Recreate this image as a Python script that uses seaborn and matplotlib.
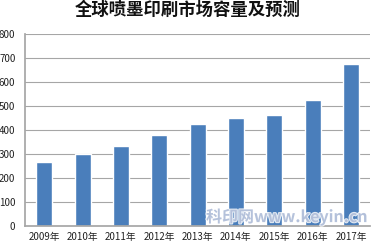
import matplotlib
matplotlib.use("Agg")
import matplotlib.pyplot as plt
import seaborn as sns
import pandas as pd
import matplotlib.patheffects as pe

years = ["2009年", "2010年", "2011年", "2012年", "2013年", "2014年", "2015年", "2016年", "2017年"]
values = [267, 300, 333, 379, 425, 450, 462, 525, 675]
yticks = [0, 100, 200, 300, 400, 500, 600, 700, 800]
title = "全球喷墨印刷市场容量及预测"
watermark = "科印网www.keyin.cn"

sns.set_theme(style="white")
plt.rcParams['font.family'] = ['Noto Sans CJK SC', 'DejaVu Sans']

df = pd.DataFrame({"year": years, "value": values})

fig = plt.figure(figsize=(3.75, 2.46), dpi=100)
ax = fig.add_axes([0.067, 0.081, 0.92, 0.781])
sns.barplot(data=df, x="year", y="value", color="#4a7ebb", width=0.42, ax=ax, saturation=1)
ax.set_ylim(0, 800)
ax.set_yticks(yticks)
ax.set_xlim(-0.5, 8.5)
ax.yaxis.grid(True, color="#a6a6a6", linewidth=0.8)
ax.set_axisbelow(True)
ax.set_xlabel("")
ax.set_ylabel("")
for s in ["top", "right"]:
    ax.spines[s].set_visible(False)
ax.spines["left"].set_color("#a6a6a6")
ax.spines["bottom"].set_color("#a6a6a6")
ax.tick_params(axis="both", labelsize=7, colors="#222222", length=0)
ax.tick_params(axis="y", pad=7)
ax.tick_params(axis="x", pad=4)
fig.suptitle(title, y=0.995, fontsize=12.5, fontweight="bold", color="#111111")
fig.text(0.765, 0.085, watermark, ha="center", va="bottom", fontsize=11.5, fontweight="bold",
         color="#aab9d6", alpha=0.85,
         path_effects=[pe.withStroke(linewidth=1.5, foreground="white")])
fig.savefig("out.png", dpi=100)
